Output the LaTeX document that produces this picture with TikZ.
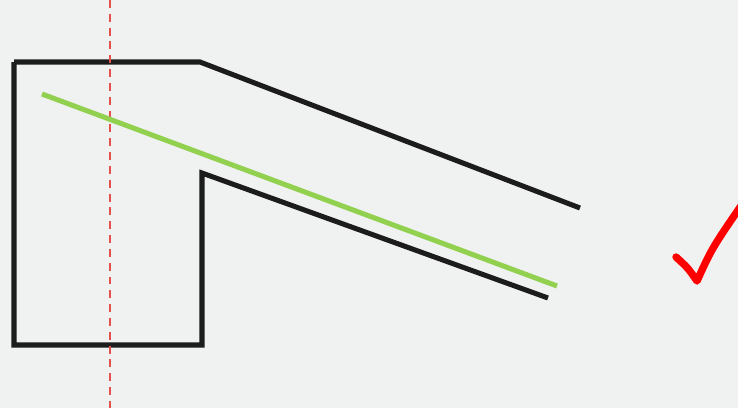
\documentclass[tikz,border=0pt]{standalone}
\usepackage{tikz}
\usetikzlibrary{positioning,calc}
\definecolor{pipebg}{RGB}{240,242,241}
\definecolor{pipeblack}{RGB}{28,28,28}
\definecolor{pipegreen}{RGB}{146,208,80}
\definecolor{pipered}{RGB}{228,80,76}
\definecolor{checkred}{RGB}{255,0,0}

\tikzset{
  wall/.style={line width=4.3pt, pipeblack},
  axisline/.style={line width=1.8pt, pipered, dash pattern=on 6.8pt off 5pt},
  flowline/.style={line width=4.3pt, pipegreen},
  tick/.style={line width=6.3pt, checkred, line cap=round, line join=round}
}

\begin{document}
\begin{tikzpicture}[x=0.03cm, y=-0.03cm]
  % frame
  \fill[pipebg] (0,0) rectangle (738,408);
  \useasboundingbox (0,0) rectangle (738,408);
  \clip (0,0) rectangle (738,408);
  % outline of the bend
  \coordinate (outerEnd) at (580,208);
  \coordinate (outerKnee) at (200,62);
  \coordinate (topLeft) at (14,62);
  \coordinate (bottomLeft) at (14,345);
  \coordinate (bottomRight) at (202,345);
  \coordinate (innerKnee) at (202,173);
  \coordinate (innerEnd) at (548,298);
  \draw[wall] (outerEnd) -- (outerKnee) -- (topLeft);
  \draw[wall] (topLeft) -- (bottomLeft) -- (bottomRight) -- (innerKnee) -- (innerEnd);
  % axis
  \coordinate (axisTop) at (110,0);
  \coordinate (axisBottom) at (110,408);
  \draw[axisline] (axisTop) -- (axisBottom);
  % green line
  \coordinate (flowStart) at (42,94);
  \coordinate (flowEnd) at (557,286);
  \draw[flowline] (flowStart) -- (flowEnd);
  % check mark
  \coordinate (tickA) at (676,257);
  \coordinate (tickB) at (697,281);
  \coordinate (tickC) at (745,200);
  \draw[tick] (tickA) .. controls (688,268) .. (tickB) .. controls (712,248) .. (tickC);
\end{tikzpicture}
\end{document}
